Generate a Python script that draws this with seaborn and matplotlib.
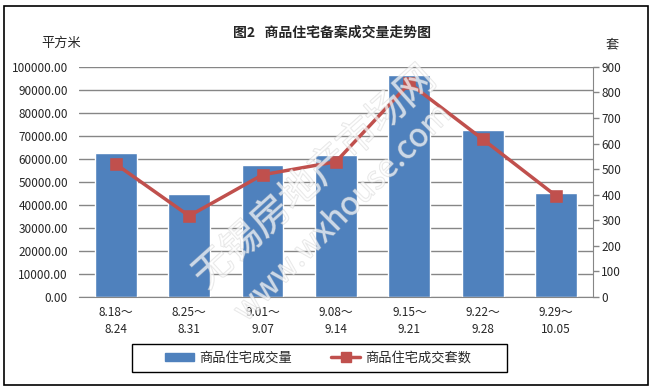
import numpy as np
import pandas as pd
import seaborn as sns
import matplotlib
matplotlib.use("Agg")
from matplotlib import pyplot as plt
from matplotlib.patches import Rectangle, Patch
from matplotlib.lines import Line2D
from matplotlib.ticker import FormatStrFormatter, MultipleLocator
import matplotlib.patheffects as pe

# weekly data
weeks = ["8.18～\n8.24", "8.25～\n8.31", "9.01～\n9.07", "9.08～\n9.14",
         "9.15～\n9.21", "9.22～\n9.28", "9.29～\n10.05"]
area = [62600, 44900, 57400, 61700, 96500, 72600, 45200]   # 平方米
units = [520, 317, 478, 529, 836, 617, 395]                # 套

bar_name = "商品住宅成交量"
line_name = "商品住宅成交套数"

df = pd.DataFrame({"week": weeks, "area": area, "units": units})

sns.set_style("white")
plt.rcParams["font.family"] = ["Noto Sans CJK SC", "DejaVu Sans"]

blue = "#4F81BD"
red = "#C0504D"
grid_gray = "#868686"

fig = plt.figure(figsize=(6.53, 3.90), dpi=100)
ax = fig.add_axes([0.121, 0.2385, 0.787, 0.59])

sns.barplot(data=df, x="week", y="area", color=blue, width=0.57,
            saturation=1, ax=ax, zorder=2)
ax.set_ylim(0, 100000)
ax.yaxis.set_major_locator(MultipleLocator(10000))
ax.yaxis.set_major_formatter(FormatStrFormatter("%.2f"))
ax.grid(axis="y", color=grid_gray, linewidth=1)
ax.set_axisbelow(True)
ax.set_xlabel("")
ax.set_ylabel("")
for s in ["top", "left", "right"]:
    ax.spines[s].set_visible(False)
ax.spines["bottom"].set_color(grid_gray)
ax.tick_params(axis="y", length=0, pad=8, labelsize=8.5)
ax.tick_params(axis="x", length=0, pad=6.5, labelsize=8.5)
for lab in ax.get_xticklabels():
    lab.set_linespacing(1.4)

ax2 = ax.twinx()
sns.pointplot(data=df, x="week", y="units", color=red, markers="s",
              markersize=7, linewidth=2.5, ax=ax2)
ax2.set_ylim(0, 900)
ax2.yaxis.set_major_locator(MultipleLocator(100))
ax2.set_ylabel("")
ax2.set_xlabel("")
for s in ["top", "left", "bottom"]:
    ax2.spines[s].set_visible(False)
ax2.spines["right"].set_color(grid_gray)
ax2.tick_params(axis="y", length=4, width=1, color=grid_gray, pad=2,
                labelsize=8.5, direction="out")
ax2.set_xlim(-0.5, len(weeks) - 0.5)
ax.set_xlim(-0.5, len(weeks) - 0.5)

fig.text(0.508, 0.915, "图2   商品住宅备案成交量走势图", ha="center", va="center",
         fontsize=10, fontweight="bold")
fig.text(0.093, 0.888, "平方米", ha="center", va="center", fontsize=9.5)
fig.text(0.937, 0.886, "套", ha="center", va="center", fontsize=9.5)

# faint watermark (thin outlined text)
wm = dict(ha="center", va="center", color="white", alpha=0.45, fontweight="light",
          path_effects=[pe.Stroke(linewidth=0.9, foreground="#c8c8c8"), pe.Normal()],
          zorder=5)
fig.text(0.482, 0.544, "无锡房地产市场网", fontsize=28, rotation=42, **wm)
fig.text(0.525, 0.454, "www.wxhouse.com", fontsize=23, rotation=45, **wm)

handles = [Patch(facecolor=blue, edgecolor=blue),
           Line2D([0], [0], color=red, linewidth=2.5, marker="s", markersize=7)]
leg = fig.legend(handles, [bar_name, line_name], loc="center",
                 bbox_to_anchor=(318 / 653, 1 - 358 / 390), ncol=2, frameon=False,
                 fontsize=9.5, handlelength=2.2, handleheight=0.6,
                 columnspacing=3, handletextpad=0.4)
leg.set_zorder(6)

# legend frame and outer chart border
fig.patches.append(Rectangle((132 / 653, 1 - 372 / 390), 375 / 653, 28 / 390,
                             transform=fig.transFigure, fill=False,
                             edgecolor="black", linewidth=1))
fig.patches.append(Rectangle((4 / 653, 1 - 385 / 390), 644 / 653, 379 / 390,
                             transform=fig.transFigure, fill=False,
                             edgecolor="black", linewidth=1.2))

fig.savefig("out.png", dpi=100)
